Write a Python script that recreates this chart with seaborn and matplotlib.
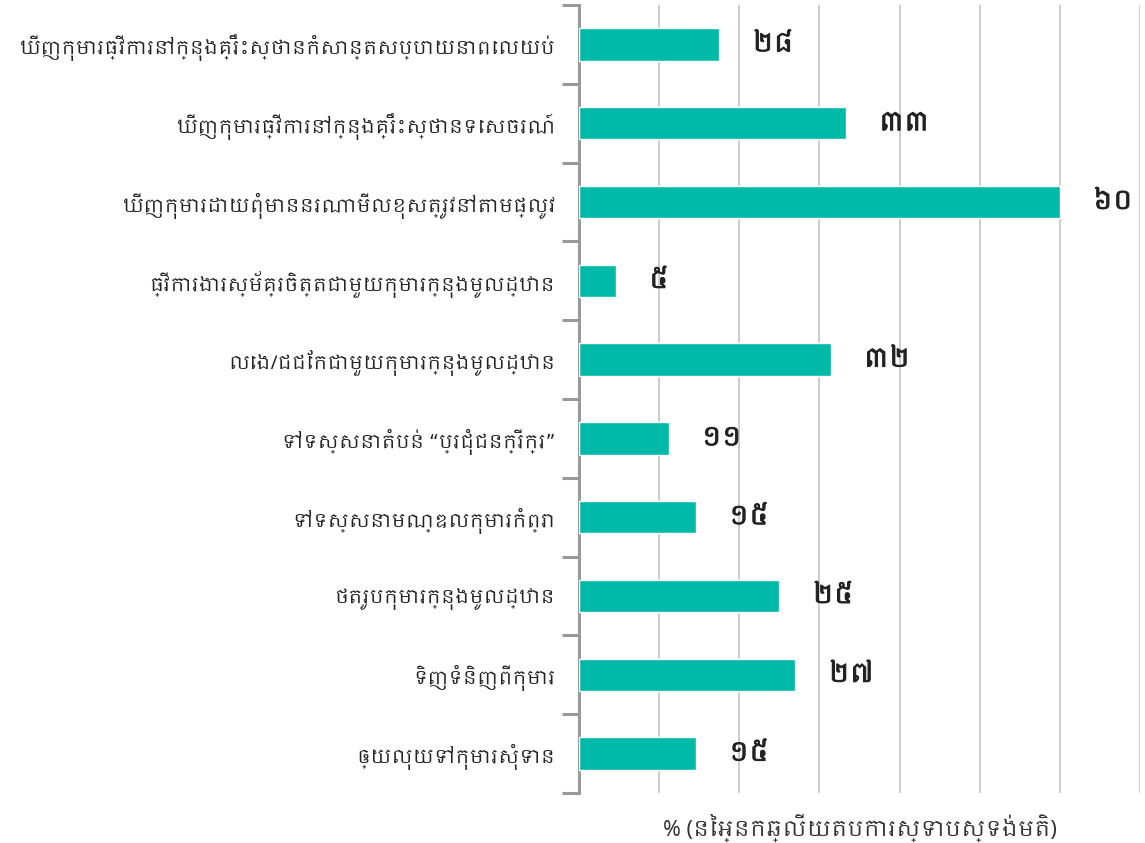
#!/usr/bin/env python3
import matplotlib
matplotlib.use('Agg')
import matplotlib.pyplot as plt
import matplotlib.patheffects as pe
from matplotlib import font_manager
from matplotlib.ft2font import FT2Font
from matplotlib.ticker import FixedLocator
import seaborn as sns
import pandas as pd

# Data
activities = [
    'ឃើញកុមារធ្វើការនៅក្នុងគ្រឹះស្ថានកំសាន្តសប្បាយនាពេលយប់',
    'ឃើញកុមារធ្វើការនៅក្នុងគ្រឹះស្ថានទេសចរណ៍',
    'ឃើញកុមារដោយពុំមាននរណាមើលខុសត្រូវនៅតាមផ្លូវ',
    'ធ្វើការងារស្ម័គ្រចិត្តជាមួយកុមារក្នុងមូលដ្ឋាន',
    'លេង/ជជែកជាមួយកុមារក្នុងមូលដ្ឋាន',
    'ទៅទស្សនាតំបន់ “ប្រជុំជនក្រីក្រ”',
    'ទៅទស្សនាមណ្ឌលកុមារកំព្រា',
    'ថតរូបកុមារក្នុងមូលដ្ឋាន',
    'ទិញទំនិញពីកុមារ',
    'ឲ្យលុយទៅកុមារសុំទាន',
]
# bar lengths as drawn (the first bar is drawn shorter than its label says)
bar_lengths = [17.5, 33.3, 60, 4.6, 31.4, 11.2, 14.6, 25, 27, 14.6]
value_labels = ['២៨', '៣៣', '៦០', '៥', '៣២', '១១', '១៥', '២៥', '២៧', '១៥']
x_label = '% (នៃអ្នកឆ្លើយតបការស្ទាបស្ទង់មតិ)'


def find_khmer_font():
    '''Look for an installed font that has Khmer glyphs'''
    found = []
    for f in font_manager.fontManager.ttflist:
        try:
            cmap = FT2Font(f.fname).get_charmap()
        except Exception:
            continue
        if 0x1780 in cmap and 0x17E0 in cmap:
            found.append(f.name)
    found.sort(key=lambda n: ('Khmer' not in n, n))
    return found[0] if found else None


sns.set_style('white')
khmer = find_khmer_font()
families = ([khmer] if khmer else []) + ['DejaVu Sans']
plt.rcParams['font.family'] = families

df = pd.DataFrame({'activity': activities, 'percent': bar_lengths})

fig = plt.figure(figsize=(11.45, 8.43), dpi=100)
ax = fig.add_axes([579 / 1145, 1 - 793 / 843, (1140 - 579) / 1145, 788 / 843])

sns.barplot(data=df, x='percent', y='activity', orient='h', color='#00B9A6',
            width=0.41, saturation=1, ax=ax, zorder=3)

ax.set_xlim(0, 70)
ax.set_ylim(len(activities) - 0.5, -0.5)
ax.set_xticks(range(0, 71, 10))
ax.set_xticklabels([])
ax.tick_params(axis='x', length=0)
ax.grid(axis='x', color='#cccccc', linewidth=1.4, zorder=0)
ax.grid(axis='y', visible=False)

# Category boundaries get the small gray ticks
ax.yaxis.set_minor_locator(FixedLocator([i - 0.5 for i in range(len(activities) + 1)]))
ax.tick_params(axis='y', which='major', length=0, pad=17, labelsize=13.5,
               labelcolor='#222222')
ax.tick_params(axis='y', which='minor', length=12, width=2.2, color='#9a9a9a',
               left=True)

for side in ['top', 'right', 'bottom']:
    ax.spines[side].set_visible(False)
ax.spines['left'].set_color('#9a9a9a')
ax.spines['left'].set_linewidth(2.2)

#Thicken the digits a little, the font has no bold face
bold = [pe.withStroke(linewidth=0.7, foreground='#222222')]
for i, (v, txt) in enumerate(zip(bar_lengths, value_labels)):
    ax.annotate(txt, (v, i), xytext=(33, 0), textcoords='offset pixels',
                ha='left', va='center', fontsize=19, fontweight='bold',
                color='#222222', path_effects=bold)

ax.set_xlabel(x_label, fontsize=15.5, color='#333333', labelpad=11)
ax.set_ylabel('')

plt.savefig('out.png', dpi=100)
